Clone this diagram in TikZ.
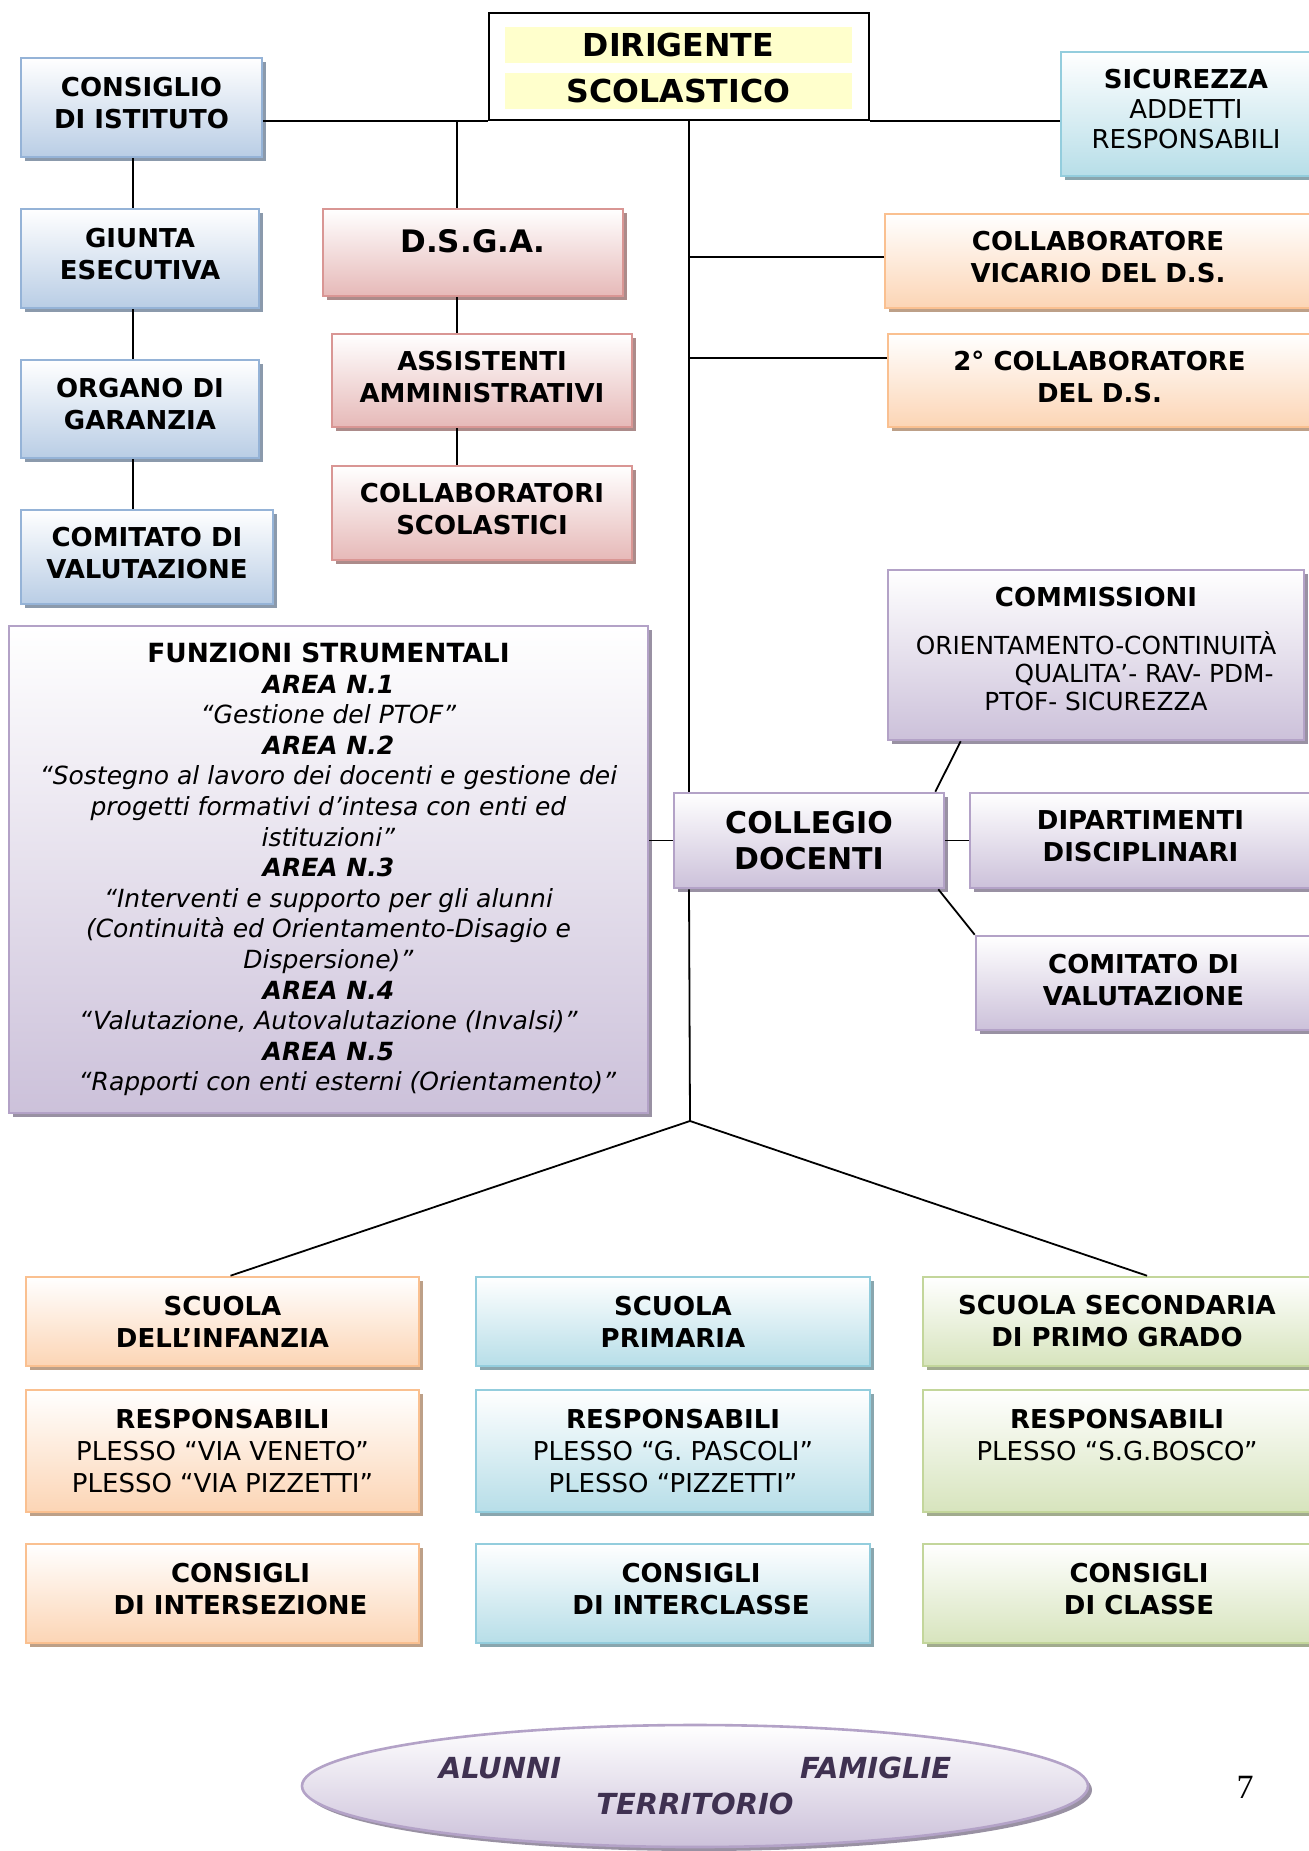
\documentclass[tikz,border=0pt]{standalone}
\usepackage{fontspec}
\setmainfont{DejaVu Sans}
\newfontfamily\numfont{Liberation Serif}
\usepackage{xcolor,tikz}
\usetikzlibrary{shapes.geometric,shadows}
\definecolor{bluB}{HTML}{95B3D7}\definecolor{bluF}{HTML}{B9CDE5}
\definecolor{redB}{HTML}{D99694}\definecolor{redF}{HTML}{E6B9B8}
\definecolor{cyaB}{HTML}{93CDDD}\definecolor{cyaF}{HTML}{B7DEE8}
\definecolor{oraB}{HTML}{FAC090}\definecolor{oraF}{HTML}{FCD5B5}
\definecolor{purB}{HTML}{B3A2C7}\definecolor{purF}{HTML}{CCC1DA}
\definecolor{grnB}{HTML}{C3D69B}\definecolor{grnF}{HTML}{D7E4BD}
\definecolor{yelF}{HTML}{FFFFCC}\definecolor{ellT}{HTML}{3F3151}
\newcommand{\rmit}[1]{\textmd{\textit{#1}}}

\begin{document}
\begin{tikzpicture}[x=0.5pt,y=-0.5pt,font=\fontsize{13}{16}\selectfont\bfseries,
  box/.style 2 args={draw=#1,line width=1.3pt,top color=white,bottom color=#2,general shadow={fill=#2!75!black,shadow xshift=2pt,shadow yshift=-2pt},align=center,inner sep=2pt},
  bluebox/.style={box={bluB}{bluF}},pinkbox/.style={box={redB}{redF}},cyanbox/.style={box={cyaB}{cyaF}},
  orangebox/.style={box={oraB}{oraF}},lilacbox/.style={box={purB}{purF}},greenbox/.style={box={grnB}{grnF}},
  strip/.style={fill=yelF,minimum width=173.5pt,minimum height=18pt,inner sep=0pt,font=\fontsize{15.8}{18}\selectfont\bfseries},
  conn/.style={line width=0.9pt}]
\path[use as bounding box,fill=white] (0,0) rectangle (1309,1851);
\node[draw,line width=0.9pt,minimum width=190pt,minimum height=53.5pt] (dir) at (679,66.5) {};
\node[strip] (dir1) at (678.5,45) {DIRIGENTE};
\node[strip] (dir2) at (678.5,91) {SCOLASTICO};
\node[bluebox,minimum width=120.5pt,minimum height=49.5pt,text depth=5pt] (cdi) at (141.5,107.5) {CONSIGLIO\\DI ISTITUTO};
\node[bluebox,minimum width=119pt,minimum height=49.5pt,text depth=5pt] (giunta) at (140,258.5) {GIUNTA\\ESECUTIVA};
\node[bluebox,minimum width=119pt,minimum height=49pt,text depth=5pt] (organo) at (140,409) {ORGANO DI\\GARANZIA};
\node[bluebox,minimum width=126pt,minimum height=47pt,text depth=4pt] (comval) at (147,557) {COMITATO DI\\VALUTAZIONE};
\node[pinkbox,minimum width=150pt,minimum height=43.5pt,text depth=11.5pt,font=\fontsize{15.5}{18}\selectfont\bfseries] (dsga) at (473,252.5) {D.S.G.A.};
\node[pinkbox,minimum width=150pt,minimum height=46.5pt,text depth=4pt] (assist) at (482,380.5) {ASSISTENTI\\AMMINISTRATIVI};
\node[pinkbox,minimum width=150pt,minimum height=47pt,text depth=4pt] (collsc) at (482,513) {COLLABORATORI\\SCOLASTICI};
\node[cyanbox,minimum width=125pt,minimum height=62pt,text depth=5pt,font=\fontsize{13}{15}\selectfont\bfseries] (sicur) at (1186,114) {SICUREZZA\\\textmd{ADDETTI}\\\textmd{RESPONSABILI}};
\node[orangebox,minimum width=213pt,minimum height=47pt,text depth=4pt] (vic) at (1098,261) {COLLABORATORE\\VICARIO DEL D.S.};
\node[orangebox,minimum width=211.5pt,minimum height=46.5pt,text depth=4pt] (coll2) at (1099.5,380.5) {2° COLLABORATORE\\DEL D.S.};
\node[lilacbox,minimum width=208pt,minimum height=85pt,text depth=6pt,font=\fontsize{12.4}{13.9}\selectfont\bfseries] (comm) at (1096,655) {{\fontsize{13}{16}\selectfont COMMISSIONI}\\[10pt]\textmd{ORIENTAMENTO-CONTINUITÀ\hspace*{24pt}}\\\textmd{\hspace*{48pt}QUALITA’- RAV- PDM-}\\\textmd{PTOF- SICUREZZA}};
\node[lilacbox,minimum width=135pt,minimum height=47.5pt,font=\fontsize{15}{17.7}\selectfont\bfseries] (collegio) at (809,840.5) {COLLEGIO\\DOCENTI};
\node[lilacbox,minimum width=170.5pt,minimum height=47.5pt,text depth=4pt] (dip) at (1140.5,840.5) {DIPARTIMENTI\\DISCIPLINARI};
\node[lilacbox,minimum width=167.5pt,minimum height=47pt,text depth=3pt] (comval2) at (1143.5,983) {COMITATO DI\\VALUTAZIONE};
\node[lilacbox,minimum width=319.5pt,minimum height=243.5pt,font=\fontsize{12.5}{15.3}\selectfont\bfseries] (funz) at (328.5,869.5) {{\fontsize{13.2}{15.3}\selectfont FUNZIONI STRUMENTALI}\\\textit{AREA N.1}\\\rmit{“Gestione del PTOF”}\\\textit{AREA N.2}\\\rmit{“Sostegno al lavoro dei docenti e gestione dei}\\\rmit{progetti formativi d’intesa con enti ed}\\\rmit{istituzioni”}\\\textit{AREA N.3}\\\rmit{“Interventi e supporto per gli alunni}\\\rmit{(Continuità ed Orientamento-Disagio e}\\\rmit{Dispersione)”}\\\textit{AREA N.4}\\\rmit{“Valutazione, Autovalutazione (Invalsi)”}\\\textit{AREA N.5\hspace*{27pt}}\\\rmit{\hspace*{19pt}“Rapporti con enti esterni (Orientamento)”}};
\node[orangebox,minimum width=196.5pt,minimum height=44.5pt] (inf) at (222.5,1321.5) {SCUOLA\\DELL’INFANZIA};
\node[cyanbox,minimum width=197pt,minimum height=44.5pt] (prim) at (673,1321.5) {SCUOLA\\PRIMARIA};
\node[greenbox,minimum width=194pt,minimum height=44.5pt] (sec) at (1117,1321.5) {SCUOLA SECONDARIA\\DI PRIMO GRADO};
\node[orangebox,minimum width=196.5pt,minimum height=61pt] (infr) at (222.5,1451) {RESPONSABILI\\\textmd{PLESSO “VIA VENETO”}\\\textmd{PLESSO “VIA PIZZETTI”}};
\node[cyanbox,minimum width=197pt,minimum height=61pt] (primr) at (673,1451) {RESPONSABILI\\\textmd{PLESSO “G. PASCOLI”}\\\textmd{PLESSO “PIZZETTI”}};
\node[greenbox,minimum width=194pt,minimum height=61pt] (secr) at (1117,1451) {RESPONSABILI\\\textmd{PLESSO “S.G.BOSCO”}\\\mbox{}};
\node[orangebox,minimum width=196.5pt,minimum height=49.5pt,text depth=5pt] (infc) at (222.5,1593.5) {\hspace*{18pt}CONSIGLI\\\hspace*{18pt}DI INTERSEZIONE};
\node[cyanbox,minimum width=197pt,minimum height=49.5pt,text depth=5pt] (primc) at (673,1593.5) {\hspace*{18pt}CONSIGLI\\\hspace*{18pt}DI INTERCLASSE};
\node[greenbox,minimum width=194pt,minimum height=49.5pt,text depth=5pt] (secc) at (1117,1593.5) {\hspace*{22pt}CONSIGLI\\\hspace*{22pt}DI CLASSE};
\node[lilacbox,ellipse,minimum width=393pt,minimum height=61pt,inner sep=0pt,text=ellT,font=\fontsize{14.5}{17.7}\selectfont\bfseries\itshape] (ell) at (695,1786) {ALUNNI\hspace*{119.5pt}FAMIGLIE\\TERRITORIO};
\node[font=\numfont\fontsize{17}{20}\selectfont] (pnum) at (1245,1787) {7};
\coordinate (trunk) at (689,0); \coordinate (adm) at (457,0); \coordinate (lft) at (133,0); \coordinate (fork) at (690,1121);
\draw[conn] (cdi.east |- dir.south west)--(dir.south west); \draw[conn] (dir.south east)--(sicur.west |- dir.south east);
\draw[conn] (lft |- cdi.south)--(lft |- giunta.north); \draw[conn] (lft |- giunta.south)--(lft |- organo.north); \draw[conn] (lft |- organo.south)--(lft |- comval.north);
\draw[conn] (adm |- dir.south)--(adm |- dsga.north); \draw[conn] (adm |- dsga.south)--(adm |- assist.north); \draw[conn] (adm |- assist.south)--(adm |- collsc.north);
\draw[conn] (trunk |- dir.south)--(trunk |- collegio.north);
\draw[conn] (trunk |- vic.west)++(0,-4)--([yshift=2pt]vic.west); \draw[conn] (trunk |- coll2.west)++(0,-22.5)--([yshift=11.25pt]coll2.west);
\draw[conn] (funz.east |- collegio.west)--(collegio.west); \draw[conn] (collegio.east)--(dip.west);
\draw[conn] ([xshift=-5pt]collegio.north east)--([xshift=37pt]comm.south west); \draw[conn] ([xshift=-3.5pt]collegio.south east)--(comval2.north west);
\draw[conn] (trunk |- collegio.south)--(fork);
\draw[conn] (fork)--([xshift=4pt]inf.north); \draw[conn] (fork)--([xshift=15pt]sec.north);
\end{tikzpicture}
\end{document}
